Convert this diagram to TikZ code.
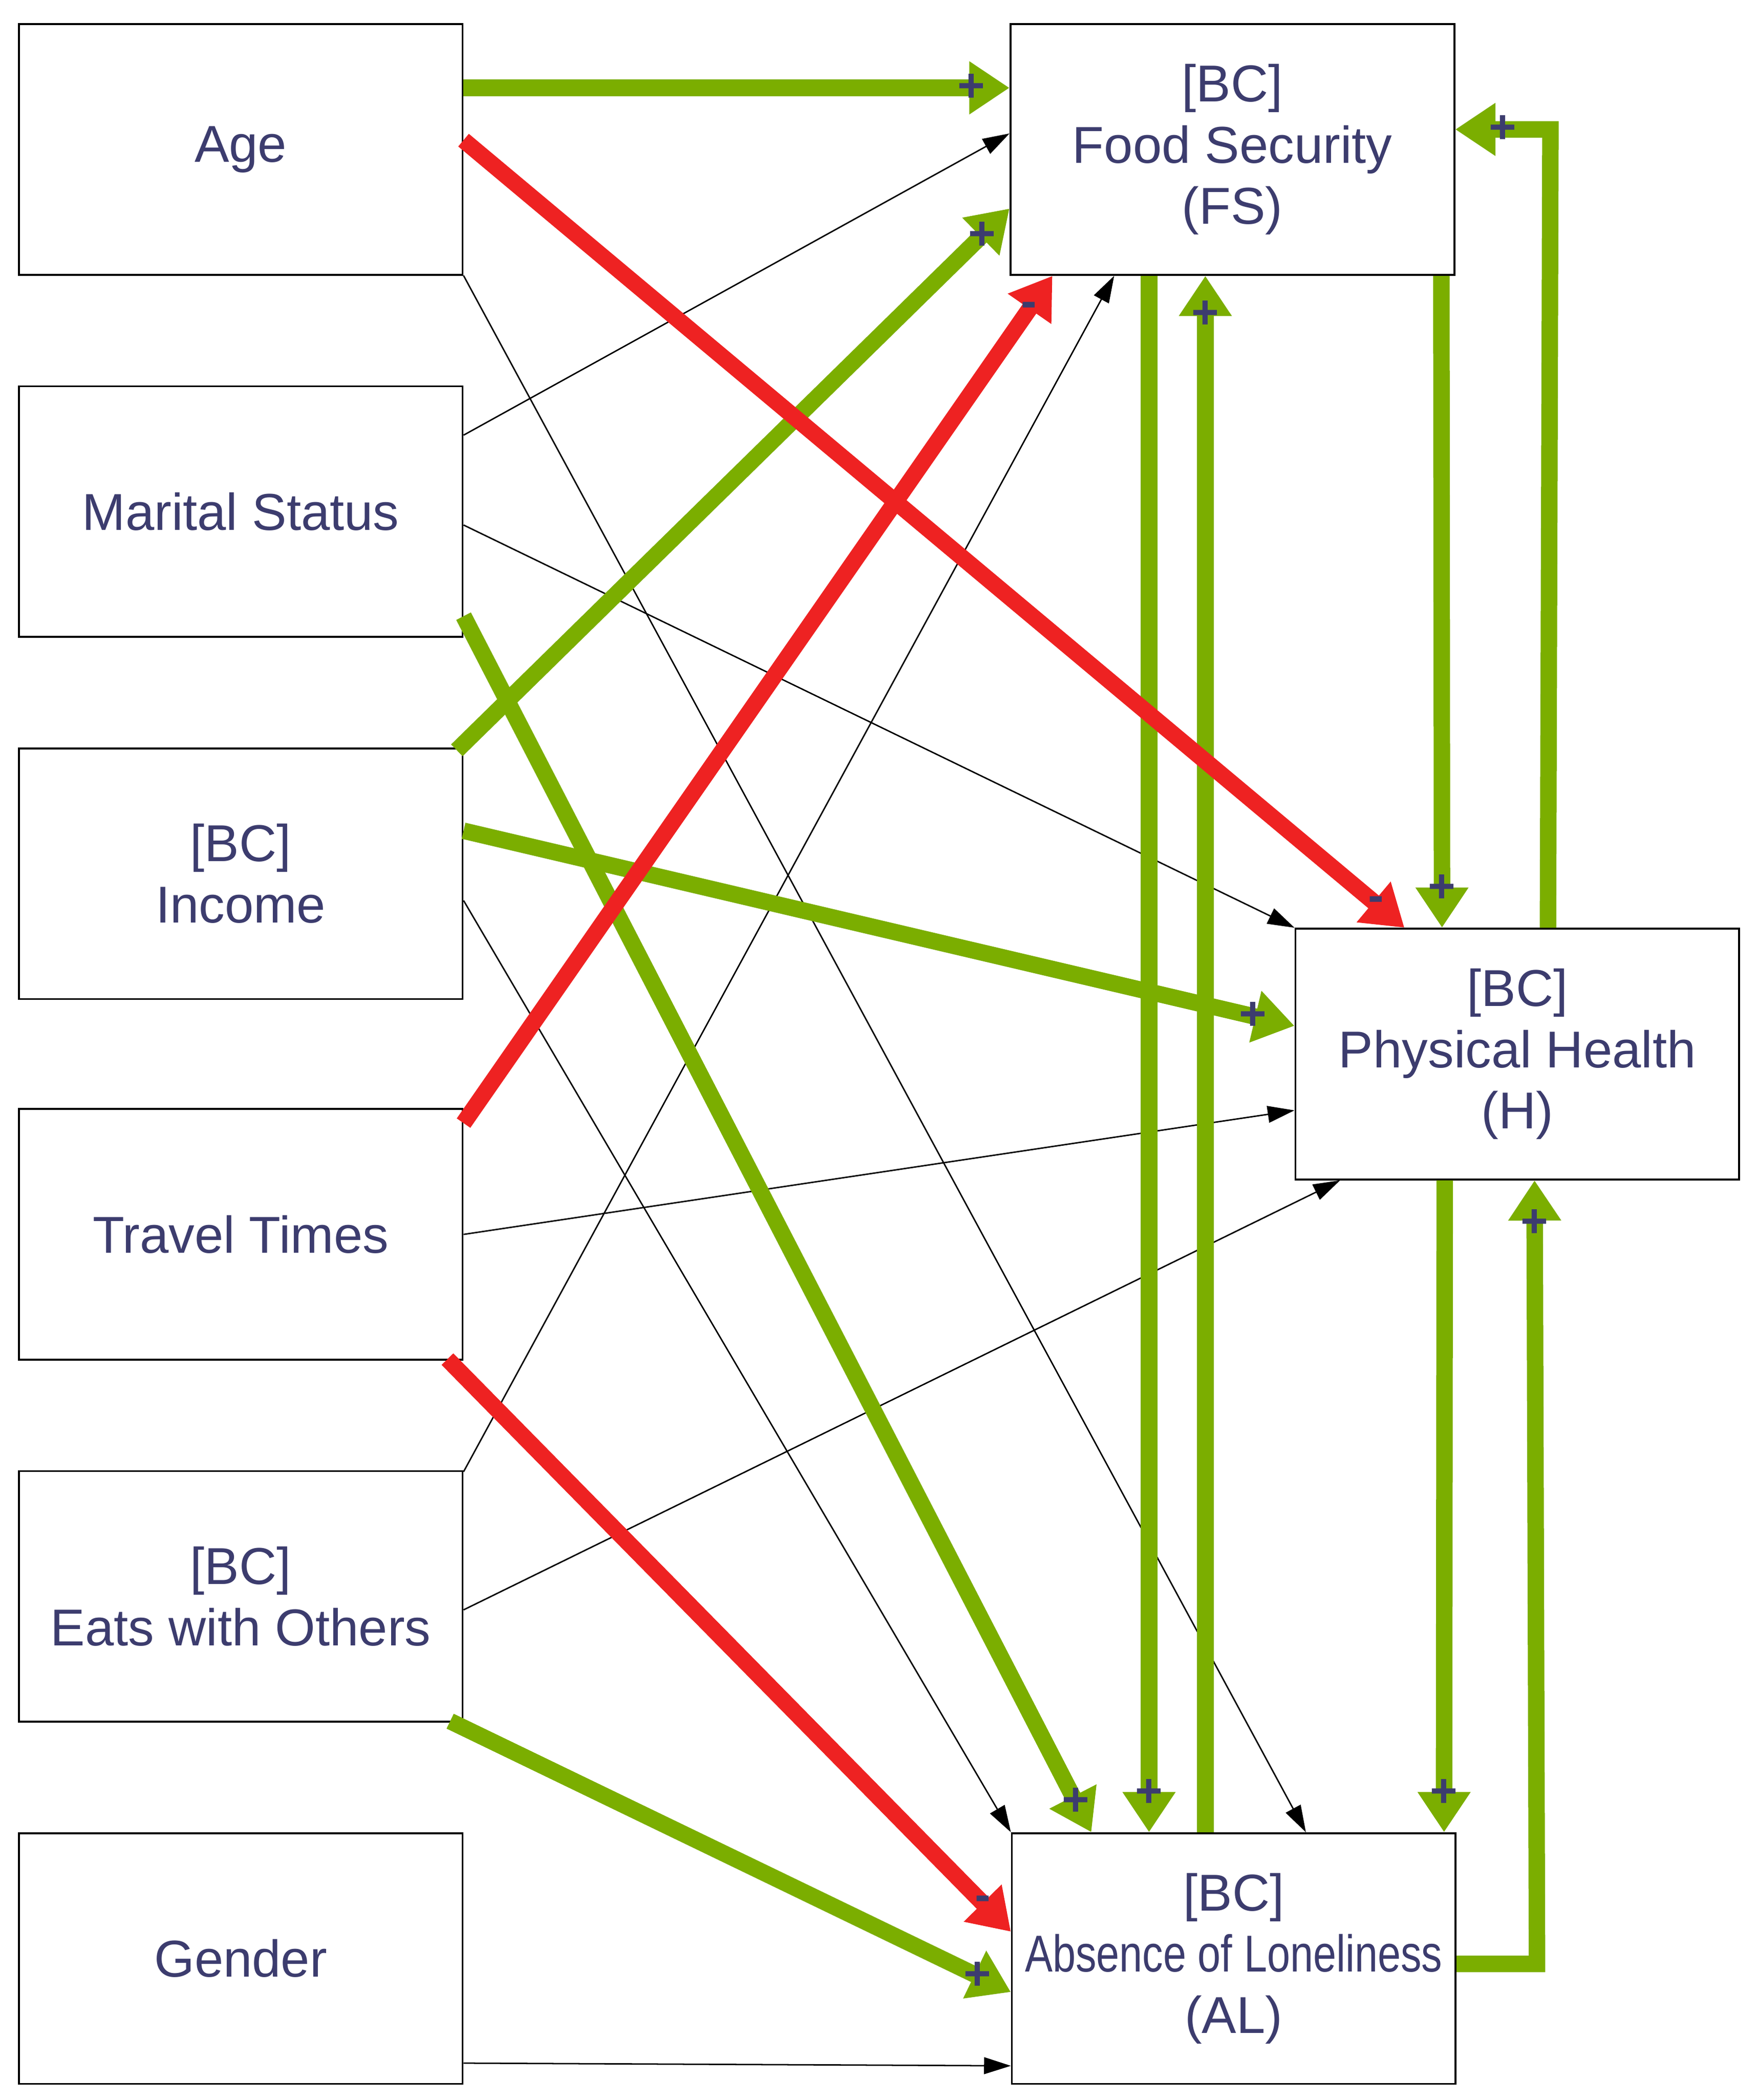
\documentclass[tikz,border=0pt]{standalone}
\usepackage{fontspec}
\setmainfont{Liberation Sans}
\usetikzlibrary{arrows.meta,calc}
\definecolor{gr}{HTML}{7BAE00}
\definecolor{rd}{HTML}{EE2222}
\definecolor{tx}{HTML}{3C3C6E}
\begin{document}
\begin{tikzpicture}[x=0.02cm,y=-0.02cm,
  box/.style={draw=black,line width=0.8pt,fill=white,minimum width=6.62cm,minimum height=3.74cm,align=center,text=tx,font=\fontsize{22}{26}\selectfont,inner xsep=2pt},
  g/.style={draw=gr,line width=7pt,-{Triangle[length=0.6cm,width=0.75cm]}},
  r/.style={draw=rd,line width=7pt,-{Triangle[length=0.6cm,width=0.75cm]}},
  k/.style={draw=black,line width=0.6pt,-{Triangle[length=0.4cm,width=0.25cm]}},
  s/.style={text=tx,font=\fontsize{20}{20}\selectfont\bfseries,inner sep=0pt}]
\useasboundingbox (0,0) rectangle (1310,1566);
\node[box] (Age) at (179.5,111.5) {Age};
\node[box] (Mar) at (179.5,381.5) {Marital Status};
\node[box] (Inc) at (179.5,651.5) {[BC]\\Income};
\node[box] (Tra) at (179.5,920.5) {Travel Times};
\node[box] (Eat) at (179.5,1190.5) {[BC]\\Eats with Others};
\node[box] (Gen) at (179.5,1460.5) {Gender};
\node[box] (FS) at (919,111.5) {[BC]\\Food Security\\(FS)};
\node[box] (PH) at (1131.5,786) {[BC]\\Physical Health\\(H)};
\node[box] (AL) at (920,1460.5) {[BC]\\\scalebox{0.8}[1]{Absence of Loneliness}\\(AL)};
% thin black
\draw[k] ($(Age.east)+(0,94)$) -- ($(AL.north west)+(220,0)$);
\draw[k] ($(Mar.east)+(0,-57)$) -- ($(FS.west)+(0,-12)$);
\draw[k] ($(Mar.east)+(0,10)$) -- ($(PH.north west)+(0,0)$);
\draw[k] ($(Inc.east)+(0,20)$) -- ($(AL.north west)+(0,0)$);
\draw[k] (Tra.east) -- ($(PH.west)+(0,42)$);
\draw[k] ($(Eat.east)+(0,-93)$) -- ($(FS.south west)+(78,0)$);
\draw[k] ($(Eat.east)+(0,10)$) -- ($(PH.south west)+(34,0)$);
\draw[k] ($(Gen.east)+(0,78)$) -- ($(AL.west)+(0,80)$);
% green
\draw[g] ($(Age.east)+(0,-46)$) -- ($(FS.west)+(0,-46)$) node[s,pos=.93]{+};
\draw[g] ($(Inc.east)+(-5,-92)$) -- ($(FS.west)+(0,44)$) node[s,pos=.95]{+};
\draw[g] ($(Inc.east)+(0,-32)$) -- ($(PH.west)+(0,-21)$) node[s,pos=.95]{+};
\draw[g] ($(Mar.east)+(0,78)$) -- ($(AL.north west)+(60,0)$) node[s,pos=.975]{+};
\draw[g] ($(Eat.east)+(-10,93)$) -- ($(AL.west)+(0,25)$) node[s,pos=.94]{+};
\draw[g] ($(FS.south west)+(104,0)$) -- ($(AL.north west)+(103,0)$) node[s,pos=.975]{+};
\draw[g] ($(AL.north west)+(145,0)$) -- ($(FS.south west)+(146,0)$) node[s,pos=.975]{+};
\draw[g] ($(FS.south west)+(322,0)$) -- ($(PH.north west)+(110,0)$) node[s,pos=.94]{+};
\draw[g] ($(PH.north west)+(189,0)$) -- ($(FS.east)+(71,-15)$) -- ($(FS.east)+(0,-15)$) node[s,pos=.5]{+};
\draw[g] ($(PH.south west)+(112,0)$) -- ($(AL.north west)+(323,0)$) node[s,pos=.94]{+};
\draw[g] ($(AL.east)+(0,4)$) -- ($(AL.east)+(60,4)$) -- ($(PH.south west)+(179,0)$) node[s,pos=.945]{+};
% red
\draw[r] ($(Age.east)+(0,-7)$) -- ($(PH.north west)+(82,0)$) node[s,pos=.97]{-};
\draw[r] ($(Tra.east)+(0,-83)$) -- ($(FS.south west)+(32,0)$) node[s,pos=.96]{-};
\draw[r] ($(Tra.east)+(-12,93)$) -- ($(AL.west)+(0,-20)$) node[s,pos=.95]{-};
\end{tikzpicture}
\end{document}
